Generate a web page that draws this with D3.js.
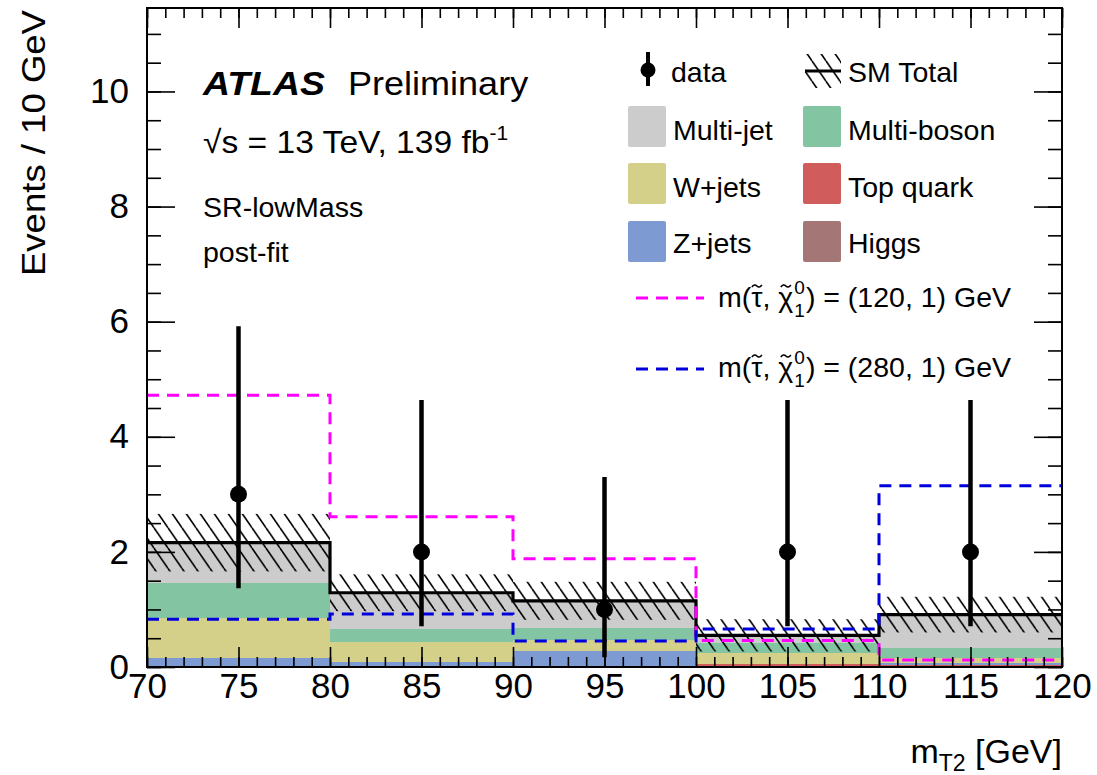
<!DOCTYPE html>
<html><head><meta charset="utf-8">
<script src="https://cdn.jsdelivr.net/npm/d3@7"></script>
<style>
body{margin:0;background:#fff}
svg{display:block}
text{font-family:"Liberation Sans",Arial,Helvetica,sans-serif;fill:#000}
</style>
</head><body>
<svg id="chart" width="1097" height="775"></svg>
<script>
// m_T2 binning (GeV) and post-fit background yields per bin
const binEdges   = [70, 80, 90, 100, 110, 120];
const higgs      = [0.01, 0.01, 0.01, 0.01, 0.01];
const topQuark   = [0.01, 0.01, 0.01, 0.05, 0.02];
const zJets      = [0.14, 0.06, 0.25, 0.00, 0.04];
const wJets      = [0.69, 0.36, 0.20, 0.19, 0.09];
const multiBoson = [0.61, 0.22, 0.21, 0.16, 0.17];
const multiJet   = [0.70, 0.63, 0.47, 0.14, 0.58];
const smUncert   = [0.50, 0.32, 0.33, 0.28, 0.31];
// observed events with asymmetric Poisson intervals
const dataCounts = [3, 2, 1, 2, 2];
const dataLow    = [1.37, 0.71, 0.17, 0.71, 0.71];
const dataHigh   = [5.92, 4.64, 3.30, 4.64, 4.64];
// signal benchmarks
const sig120 = [4.72, 2.61, 1.88, 0.46, 0.12];
const sig280 = [0.83, 0.92, 0.45, 0.66, 3.15];
const xTickLabels = [70, 75, 80, 85, 90, 95, 100, 105, 110, 115, 120];
const yTickLabels = [0, 2, 4, 6, 8, 10];

const components = [
  {key: "higgs", label: "Higgs", values: higgs, color: "#a57676"},
  {key: "top", label: "Top quark", values: topQuark, color: "#d05c5c"},
  {key: "z", label: "Z+jets", values: zJets, color: "#7d9bd2"},
  {key: "w", label: "W+jets", values: wJets, color: "#d4d08a"},
  {key: "vv", label: "Multi-boson", values: multiBoson, color: "#83c4a3"},
  {key: "mj", label: "Multi-jet", values: multiJet, color: "#cccccc"}
];

const svg = d3.select("#chart");
const L = 147, R = 1062, T = 8, B = 667;
const x = d3.scaleLinear().domain([70, 120]).range([L, R]);
const y = d3.scaleLinear().domain([0, 11.45]).range([B, T]);

// hatch pattern for the SM uncertainty band
const defs = svg.append("defs");
const hw = 14, hh = 20.3;
const pat = defs.append("pattern").attr("id", "hatch")
  .attr("patternUnits", "userSpaceOnUse").attr("width", hw).attr("height", hh);
[-hw, 0, hw].forEach(o => pat.append("line")
  .attr("x1", o).attr("y1", 0).attr("x2", o + hw).attr("y2", hh)
  .attr("stroke", "#000").attr("stroke-width", 1.6));
defs.append("clipPath").attr("id", "plotClip").append("rect")
  .attr("x", L).attr("y", T).attr("width", R - L).attr("height", B - T);

const bins = dataCounts.map((d, i) => {
  const row = {i, lo: binEdges[i], hi: binEdges[i + 1]};
  components.forEach(c => row[c.key] = c.values[i]);
  return row;
});
const stacked = d3.stack().keys(components.map(c => c.key))(bins);
const total = bins.map(b => components.reduce((s, c) => s + b[c.key], 0));

const plot = svg.append("g").attr("clip-path", "url(#plotClip)");

// stacked backgrounds
stacked.forEach((layer, li) => {
  plot.append("g").selectAll("rect").data(layer).join("rect")
    .attr("x", d => x(d.data.lo)).attr("width", d => x(d.data.hi) - x(d.data.lo))
    .attr("y", d => y(d[1])).attr("height", d => Math.max(0, y(d[0]) - y(d[1])))
    .attr("fill", components[li].color).attr("shape-rendering", "crispEdges");
});

// uncertainty band
plot.append("g").selectAll("rect").data(bins).join("rect")
  .attr("x", d => x(d.lo)).attr("width", d => x(d.hi) - x(d.lo))
  .attr("y", d => y(total[d.i] + smUncert[d.i]))
  .attr("height", d => y(total[d.i] - smUncert[d.i]) - y(total[d.i] + smUncert[d.i]))
  .attr("fill", "url(#hatch)");

const step = d3.line().x(d => x(d[0])).y(d => y(d[1])).curve(d3.curveStepAfter);
const stepPts = vals => vals.map((v, i) => [binEdges[i], v]).concat([[binEdges[binEdges.length - 1], vals[vals.length - 1]]]);

// SM total outline
plot.append("path").attr("d", step(stepPts(total)))
  .attr("fill", "none").attr("stroke", "#000").attr("stroke-width", 3.2);

// signal benchmarks
plot.append("path").attr("d", step(stepPts(sig120)))
  .attr("fill", "none").attr("stroke", "#ff00ff").attr("stroke-width", 3)
  .attr("stroke-dasharray", "12,8");
plot.append("path").attr("d", step(stepPts(sig280)))
  .attr("fill", "none").attr("stroke", "#0000dd").attr("stroke-width", 3)
  .attr("stroke-dasharray", "12,8");

// data with error bars
const xc = i => x((binEdges[i] + binEdges[i + 1]) / 2);
plot.append("g").selectAll("line").data(bins).join("line")
  .attr("x1", d => xc(d.i)).attr("x2", d => xc(d.i))
  .attr("y1", d => y(dataLow[d.i])).attr("y2", d => y(dataHigh[d.i]))
  .attr("stroke", "#000").attr("stroke-width", 4.5);
plot.append("g").selectAll("circle").data(bins).join("circle")
  .attr("cx", d => xc(d.i)).attr("cy", d => y(dataCounts[d.i])).attr("r", 8.5)
  .attr("fill", "#000");

// axes: ticks on all four sides, pointing inward
const xMinor = d3.range(70, 121, 1);
const yMinor = d3.range(0, 11.45, 0.5);
function styleAxis(g) {
  g.select(".domain").remove();
  g.selectAll(".tick line").attr("stroke", "#000").attr("stroke-width", 1.6);
}
svg.append("g").attr("transform", `translate(0,${B})`)
  .call(d3.axisBottom(x).tickValues(xMinor).tickSize(-10).tickFormat("")).call(styleAxis);
const xAx = svg.append("g").attr("transform", `translate(0,${B})`)
  .call(d3.axisBottom(x).tickValues(xTickLabels).tickSize(-20).tickPadding(6).tickFormat(d3.format("d")))
  .call(styleAxis);
svg.append("g").attr("transform", `translate(0,${T})`)
  .call(d3.axisTop(x).tickValues(xMinor).tickSize(-10).tickFormat("")).call(styleAxis);
svg.append("g").attr("transform", `translate(0,${T})`)
  .call(d3.axisTop(x).tickValues(xTickLabels).tickSize(-20).tickFormat("")).call(styleAxis);
svg.append("g").attr("transform", `translate(${L},0)`)
  .call(d3.axisLeft(y).tickValues(yMinor).tickSize(-14).tickFormat("")).call(styleAxis);
const yAx = svg.append("g").attr("transform", `translate(${L},0)`)
  .call(d3.axisLeft(y).tickValues(yTickLabels).tickSize(-28).tickPadding(18).tickFormat(d3.format("d")))
  .call(styleAxis);
svg.append("g").attr("transform", `translate(${R},0)`)
  .call(d3.axisRight(y).tickValues(yMinor).tickSize(-14).tickFormat("")).call(styleAxis);
svg.append("g").attr("transform", `translate(${R},0)`)
  .call(d3.axisRight(y).tickValues(yTickLabels).tickSize(-28).tickFormat("")).call(styleAxis);
xAx.selectAll(".tick text").attr("font-size", 35).attr("font-family", "Liberation Sans, Arial, sans-serif").attr("fill", "#000");
yAx.selectAll(".tick text").attr("font-size", 35).attr("font-family", "Liberation Sans, Arial, sans-serif").attr("fill", "#000");

// frame
svg.append("rect").attr("x", L).attr("y", T).attr("width", R - L).attr("height", B - T)
  .attr("fill", "none").attr("stroke", "#000").attr("stroke-width", 2);

// text placed with a horizontal stretch along its reading direction
function label(parent, px, py, size, sx, rot) {
  return parent.append("text")
    .attr("transform", `translate(${px},${py})${rot ? ` rotate(${rot})` : ""} scale(${sx},1)`)
    .attr("font-size", size);
}

// axis titles
label(svg, 45, 10, 34, 1.075, -90).attr("text-anchor", "end").text("Events / 10 GeV");
const xt = label(svg, R, 763, 34, 1.0).attr("text-anchor", "end");
xt.append("tspan").text("m");
xt.append("tspan").attr("font-size", 23).attr("dy", 8).text("T2");
xt.append("tspan").attr("dy", -8).text(" [GeV]");

// ATLAS label block
const lab = svg.append("g");
label(lab, 203, 95, 34, 1.1).attr("font-weight", "bold").attr("font-style", "italic").text("ATLAS");
label(lab, 348, 95, 34, 1.06).text("Preliminary");
const rs = label(lab, 203, 153, 32, 1.05);
rs.append("tspan").text("\u221As = 13 TeV, 139 fb");
rs.append("tspan").attr("font-size", 20).attr("dy", -13).text("-1");
label(lab, 203, 217, 28, 1.02).text("SR-lowMass");
label(lab, 203, 262, 28, 1.02).text("post-fit");

// legend
const leg = svg.append("g");
const fs = 28.5;
// data entry
leg.append("line").attr("x1", 648).attr("x2", 648).attr("y1", 52).attr("y2", 86)
  .attr("stroke", "#000").attr("stroke-width", 4);
leg.append("circle").attr("cx", 648).attr("cy", 70).attr("r", 7.5).attr("fill", "#000");
leg.append("text").attr("x", 671).attr("y", 82).attr("font-size", fs).text("data");
// SM total entry
leg.append("rect").attr("x", 805).attr("y", 54).attr("width", 36).attr("height", 34).attr("fill", "url(#hatch)");
leg.append("line").attr("x1", 805).attr("x2", 841).attr("y1", 71).attr("y2", 71)
  .attr("stroke", "#000").attr("stroke-width", 3);
leg.append("text").attr("x", 848).attr("y", 82).attr("font-size", fs).text("SM Total");

const legendRows = [
  ["mj", "vv"], ["w", "top"], ["z", "higgs"]
];
const rowTop = [106, 163, 221], rowBase = [140, 197, 253];
legendRows.forEach((pair, r) => {
  pair.forEach((k, c) => {
    const comp = components.find(d => d.key === k);
    const bx = c === 0 ? 628 : 803;
    leg.append("rect").attr("x", bx).attr("y", rowTop[r]).attr("width", 38).attr("height", 41)
      .attr("rx", 2).attr("fill", comp.color);
    leg.append("text").attr("x", bx + 45).attr("y", rowBase[r]).attr("font-size", fs).text(comp.label);
  });
});

// signal entries: m(stau, neutralino) built piece by piece; tildes drawn as small strokes
function signalEntry(yLine, yBase, color, mass) {
  leg.append("line").attr("x1", 636).attr("x2", 704).attr("y1", yLine).attr("y2", yLine)
    .attr("stroke", color).attr("stroke-width", 3).attr("stroke-dasharray", "12,8");
  let cx = 718;
  const piece = (str, size, dy) => {
    const t = leg.append("text").attr("x", cx).attr("y", yBase + dy).attr("font-size", size).text(str);
    return t.node().getComputedTextLength();
  };
  const tilde = w => {
    const a = cx + w / 2 - 5, yy = yBase - 21;
    leg.append("path")
      .attr("d", `M${a},${yy + 1} Q${a + 2.5},${yy - 2.5} ${a + 5},${yy} T${a + 10},${yy - 1}`)
      .attr("fill", "none").attr("stroke", "#000").attr("stroke-width", 1.6);
  };
  cx += piece("m(", fs, 0);
  let w = piece("\u03C4", fs, 0); tilde(w); cx += w;
  cx += piece(",\u00A0", fs, 0);
  w = piece("\u03C7", fs, 0); tilde(w); cx += w + 1;
  const w0 = piece("0", 19, -13);
  const w1 = piece("1", 19, 10);
  cx += Math.max(w0, w1) + 1;
  piece(`) = (${mass}, 1) GeV`, fs, 0);
}
signalEntry(298, 307, "#ff00ff", 120);
signalEntry(369, 377, "#0000dd", 280);
</script>
</body></html>
